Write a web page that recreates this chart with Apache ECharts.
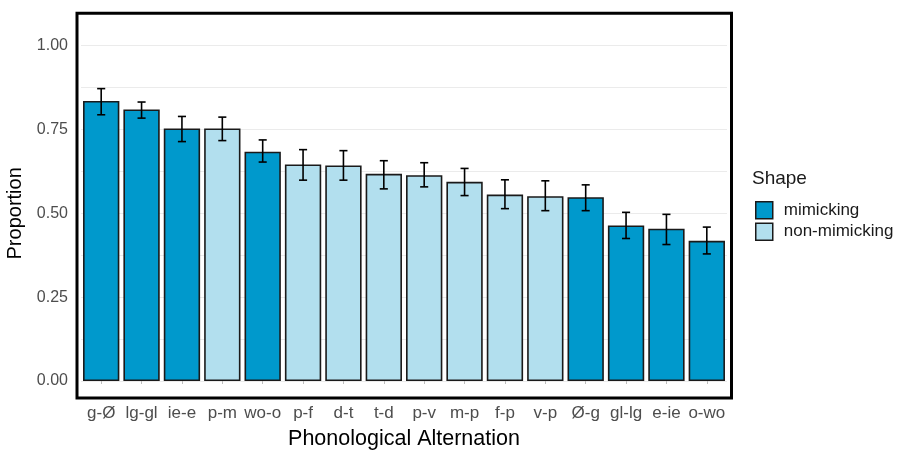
<!DOCTYPE html>
<html>
<head>
<meta charset="utf-8">
<script src="https://cdn.jsdelivr.net/npm/echarts@6/dist/echarts.min.js"></script>
<style>
  html, body { margin: 0; padding: 0; background: #fff; }
  #chart { width: 901px; height: 450px; }
</style>
</head>
<body>
<div id="chart"></div>
<script>
// Phonological alternations, sorted by proportion
const categories = ['g-Ø', 'lg-gl', 'ie-e', 'p-m', 'wo-o', 'p-f', 'd-t', 't-d', 'p-v', 'm-p', 'f-p', 'v-p', 'Ø-g', 'gl-lg', 'e-ie', 'o-wo'];
const shapes = ['mimicking', 'mimicking', 'mimicking', 'non-mimicking', 'mimicking',
  'non-mimicking', 'non-mimicking', 'non-mimicking', 'non-mimicking', 'non-mimicking',
  'non-mimicking', 'non-mimicking', 'mimicking', 'mimicking', 'mimicking', 'mimicking'];
const proportion = [0.835, 0.810, 0.753, 0.753, 0.684, 0.646, 0.643, 0.618, 0.614, 0.594, 0.556, 0.551, 0.548, 0.464, 0.454, 0.418];
const lower = [0.794, 0.784, 0.714, 0.717, 0.653, 0.599, 0.599, 0.573, 0.579, 0.553, 0.514, 0.508, 0.508, 0.425, 0.407, 0.379];
const upper = [0.872, 0.832, 0.789, 0.787, 0.719, 0.690, 0.687, 0.657, 0.651, 0.634, 0.600, 0.597, 0.585, 0.503, 0.497, 0.459];
const shapeLevels = ['mimicking', 'non-mimicking'];
const yTicks = [0, 0.25, 0.5, 0.75, 1.0];

const fillColors = { 'mimicking': '#0099cc', 'non-mimicking': '#b2dfee' };
const FONT = '"Liberation Sans", Arial, sans-serif';

const chart = echarts.init(document.getElementById('chart'), null, { renderer: 'canvas' });

const barSeries = shapeLevels.map(level => ({
  name: level,
  type: 'bar',
  stack: 'shape',
  barWidth: '90%',
  data: proportion.map((v, i) => shapes[i] === level ? v : '-'),
  itemStyle: { color: fillColors[level], borderColor: '#1a1a1a', borderWidth: 1.6 },
  emphasis: { disabled: true },
  z: 2
}));

const errorSeries = {
  type: 'custom',
  name: 'error',
  data: categories.map((c, i) => [i, lower[i], upper[i]]),
  encode: { x: 0, y: [1, 2] },
  z: 5,
  renderItem: function (params, api) {
    const x = api.value(0);
    const lo = api.coord([x, api.value(1)]);
    const hi = api.coord([x, api.value(2)]);
    const half = api.size([1, 0])[0] * 0.1;
    const style = { stroke: '#000', lineWidth: 1.6, fill: null };
    return {
      type: 'group',
      children: [
        { type: 'line', shape: { x1: lo[0], y1: lo[1], x2: hi[0], y2: hi[1] }, style: style },
        { type: 'line', shape: { x1: hi[0] - half, y1: hi[1], x2: hi[0] + half, y2: hi[1] }, style: style },
        { type: 'line', shape: { x1: lo[0] - half, y1: lo[1], x2: lo[0] + half, y2: lo[1] }, style: style }
      ]
    };
  }
};

chart.setOption({
  animation: false,
  backgroundColor: '#ffffff',
  textStyle: { fontFamily: FONT },
  title: {
    text: 'Shape',
    left: 752,
    top: 169,
    padding: 0,
    textStyle: { fontFamily: FONT, fontSize: 19, fontWeight: 'normal', color: '#1a1a1a' }
  },
  legend: {
    data: shapeLevels,
    orient: 'vertical',
    left: 755,
    top: 201,
    padding: 0,
    itemWidth: 17,
    itemHeight: 17,
    itemGap: 3,
    icon: 'rect',
    itemStyle: { borderColor: '#1a1a1a', borderWidth: 1.5 },
    textStyle: { fontFamily: FONT, fontSize: 17, color: '#1a1a1a', padding: [0, 0, 0, 6] },
    selectedMode: false
  },
  grid: { left: 81, right: 174, top: 45.7, bottom: 69, containLabel: false, outerBoundsMode: 'none' },
  xAxis: {
    type: 'category',
    data: categories,
    offset: 18,
    name: 'Phonological Alternation',
    nameLocation: 'middle',
    nameGap: 29,
    nameTextStyle: { fontFamily: FONT, fontSize: 21.5, color: '#000' },
    axisLine: { show: false },
    axisTick: { show: true, alignWithLabel: true, length: 3, lineStyle: { color: '#bdbdbd', width: 1 } },
    axisLabel: { fontFamily: FONT, fontSize: 17, color: '#4d4d4d', margin: 6, interval: 0 },
    splitLine: { show: false }
  },
  yAxis: {
    type: 'value',
    min: 0,
    max: 1,
    interval: 0.125,
    name: 'Proportion',
    nameLocation: 'middle',
    nameGap: 52,
    nameTextStyle: { fontFamily: FONT, fontSize: 20, color: '#000' },
    axisLine: { show: false },
    axisTick: { show: false },
    axisLabel: {
      fontFamily: FONT, fontSize: 16, color: '#4d4d4d', margin: 13,
      formatter: v => yTicks.some(t => Math.abs(t - v) < 1e-9) ? v.toFixed(2) : ''
    },
    splitLine: { show: true, lineStyle: { color: '#ebebeb', width: 1 } }
  },
  graphic: [{
    type: 'rect',
    z: 100,
    silent: true,
    shape: { x: 77, y: 13.3, width: 654.5, height: 384.7 },
    style: { fill: null, stroke: '#000', lineWidth: 3 }
  }],
  series: [...barSeries, errorSeries]
});
</script>
</body>
</html>
